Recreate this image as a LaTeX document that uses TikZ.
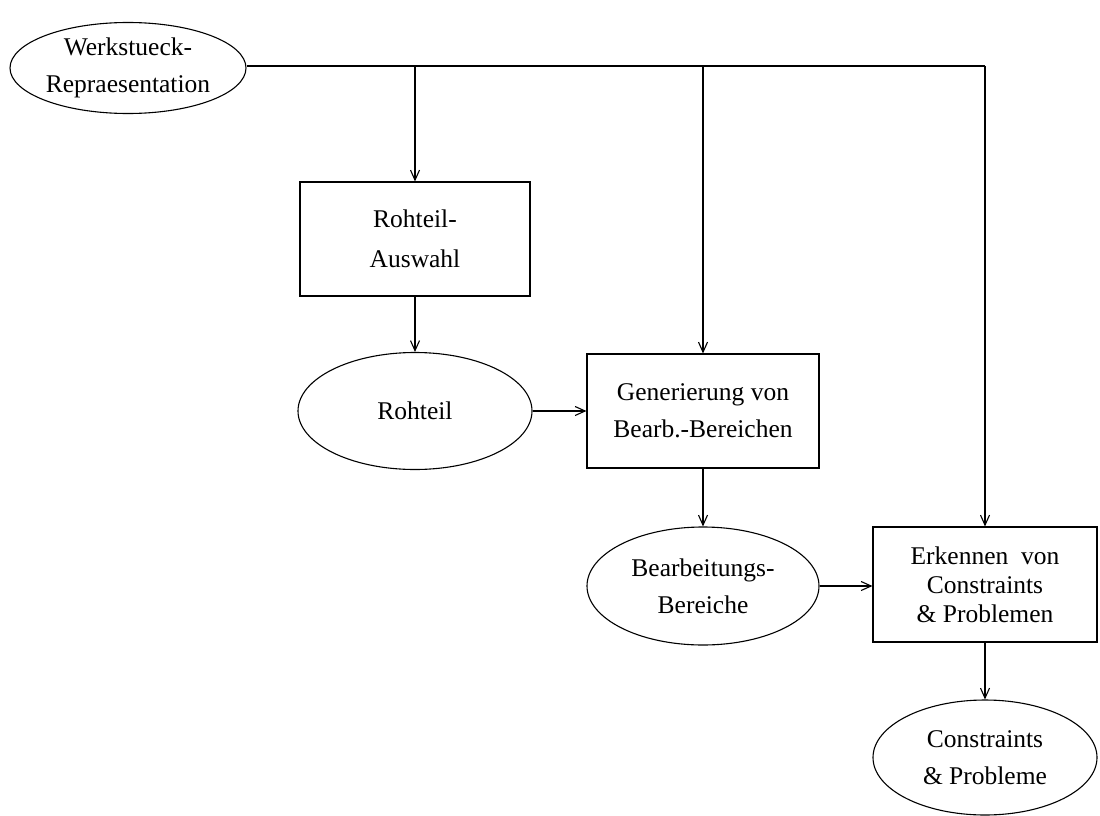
\documentclass[tikz,border=0pt]{standalone}
\usepackage{fontspec}
\setmainfont{Liberation Serif}
\usetikzlibrary{shapes.geometric,arrows.meta}
\begin{document}
\begin{tikzpicture}[x=1pt,y=-1pt,
  line width=1.1pt,
  flow/.style={-{Straight Barb[length=10pt,width=9pt,line width=1.1pt]}},
  blob/.style={draw,ellipse,inner sep=0pt,align=center,
    font=\fontsize{25.5}{37}\selectfont},
  proc/.style={draw,rectangle,inner sep=0pt,align=center,
    font=\fontsize{25.5}{37}\selectfont}]
\useasboundingbox (0,0) rectangle (1100,816);

% data items (ellipses) and processing steps (boxes)
\node[blob,minimum width=236pt,minimum height=91pt] (werk) at (128,68)
  {Werkstueck-\\Repraesentation};
\node[proc,minimum width=230pt,minimum height=114pt,
  font=\fontsize{25.5}{40}\selectfont] (auswahl) at (415,239)
  {Rohteil-\\Auswahl};
\node[blob,minimum width=234pt,minimum height=117pt] (rohteil) at (415,411)
  {Rohteil};
\node[proc,minimum width=232pt,minimum height=114pt] (gen) at (703,411)
  {Generierung von\\Bearb.-Bereichen};
\node[blob,minimum width=232pt,minimum height=118pt] (bereiche) at (703,586)
  {Bearbeitungs-\\Bereiche};
\node[proc,minimum width=224pt,minimum height=115pt,
  font=\fontsize{25.5}{29}\selectfont] (erkennen) at (985,584.5)
  {Erkennen~~von\\Constraints\\\& Problemen};
\node[blob,minimum width=224pt,minimum height=115pt] (probleme) at (985,757.5)
  {Constraints\\\& Probleme};

% distribution line of the workpiece representation
\coordinate (t1) at (415,66);
\coordinate (t2) at (703,66);
\coordinate (t3) at (985,66);
\draw (werk.east |- t1) -- (t3);
\draw[flow] (t1) -- (auswahl.north);
\draw[flow] (t2) -- (gen.north);
\draw[flow] (t3) -- (erkennen.north);

% processing chain
\draw[flow] (auswahl.south) -- (rohteil.north);
\draw[flow] (rohteil.east) -- (gen.west);
\draw[flow] (gen.south) -- (bereiche.north);
\draw[flow] (bereiche.east) -- (erkennen.west |- bereiche.east);
\draw[flow] (erkennen.south) -- (probleme.north);
\end{tikzpicture}
\end{document}
